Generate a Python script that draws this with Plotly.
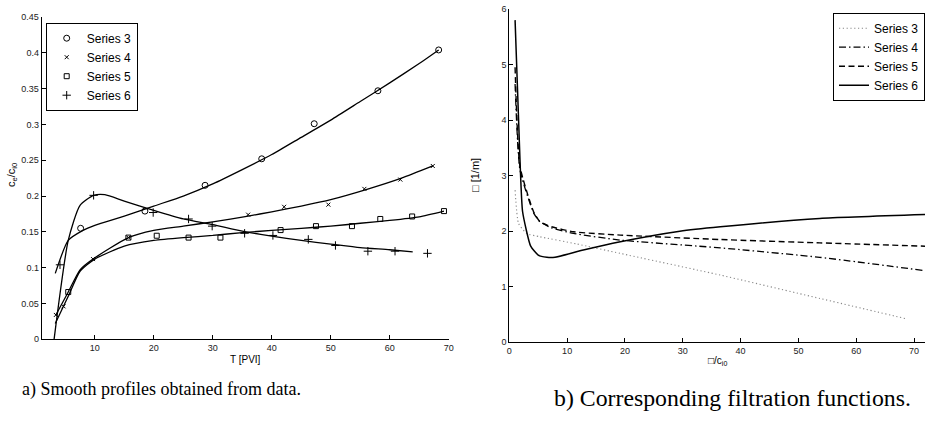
import plotly.graph_objects as go

# ---------------- Left panel: measured points ----------------
s3_x = [7.6, 18.5, 28.7, 38.3, 47.2, 58.0, 68.3]
s3_y = [0.155, 0.179, 0.215, 0.252, 0.301, 0.347, 0.404]
s4_x = [3.4, 4.7, 9.7, 15.7, 36.0, 42.1, 49.6, 55.7, 61.8, 67.3]
s4_y = [0.034, 0.046, 0.112, 0.142, 0.174, 0.185, 0.188, 0.210, 0.223, 0.242]
s5_x = [5.5, 15.7, 20.5, 25.9, 31.3, 41.5, 47.5, 53.6, 58.4, 63.8, 69.2]
s5_y = [0.066, 0.142, 0.1446, 0.142, 0.142, 0.1525, 0.158, 0.158, 0.168, 0.1715, 0.179]
s6_x = [4.1, 9.8, 19.9, 25.9, 29.9, 35.4, 40.2, 46.2, 50.8, 56.3, 60.9, 66.4]
s6_y = [0.104, 0.201, 0.177, 0.168, 0.158, 0.148, 0.145, 0.1395, 0.131, 0.123, 0.123, 0.120]

# ---------------- Left panel: smooth profiles ----------------
f3_x = [3.3, 5.5, 8, 10, 15, 20, 25, 30, 35, 40, 45, 50, 55, 60, 65, 68.3]
f3_y = [0.092, 0.138, 0.152, 0.159, 0.172, 0.186, 0.200, 0.217, 0.237, 0.258, 0.282, 0.306, 0.332, 0.358, 0.385, 0.404]
f4_x = [3.4, 5.5, 7.5, 9.7, 15.7, 20, 25, 30, 36, 40, 45, 50, 56, 62, 67.3]
f4_y = [0.034, 0.066, 0.097, 0.112, 0.142, 0.152, 0.158, 0.164, 0.172, 0.178, 0.186, 0.195, 0.209, 0.225, 0.242]
f5_x = [3.3, 5.5, 7.5, 10, 15, 20, 25, 30, 35, 40, 45, 50, 55, 60, 65, 69.2]
f5_y = [0.022, 0.060, 0.095, 0.112, 0.130, 0.138, 0.142, 0.145, 0.149, 0.152, 0.155, 0.158, 0.162, 0.166, 0.171, 0.179]
f6_x = [3.1, 5.5, 7.5, 9.8, 11.7, 15, 20, 25, 30, 35, 40, 45, 50, 55, 60, 63.9]
f6_y = [0.0, 0.138, 0.187, 0.201, 0.202, 0.193, 0.180, 0.168, 0.160, 0.151, 0.144, 0.138, 0.133, 0.128, 0.125, 0.122]

# ---------------- Right panel: filtration functions ----------------
g3_x = [1.0, 1.6, 3.0, 5.3, 11.7, 19.2, 36.5, 53.7, 68.8]
g3_y = [2.74, 2.14, 1.96, 1.90, 1.77, 1.60, 1.21, 0.79, 0.42]
g4_x = [1.0, 1.85, 4.2, 5.3, 7.3, 11.1, 19.2, 36.5, 53.7, 71.9]
g4_y = [4.65, 3.10, 2.33, 2.17, 2.06, 1.96, 1.84, 1.70, 1.53, 1.29]
g5_x = [1.0, 1.85, 4.2, 5.3, 7.3, 11.1, 19.2, 36.5, 53.7, 71.9]
g5_y = [4.95, 3.16, 2.35, 2.17, 2.08, 1.99, 1.93, 1.85, 1.79, 1.73]
g6_x = [1.0, 1.85, 2.3, 3.7, 5.0, 6.5, 7.9, 12.8, 19.2, 29.5, 36.5, 53.7, 71.9]
g6_y = [5.80, 3.28, 2.35, 1.73, 1.57, 1.53, 1.53, 1.66, 1.81, 2.00, 2.08, 2.23, 2.30]

names = ["Series 3", "Series 4", "Series 5", "Series 6"]
FONT = "Liberation Sans, Arial, sans-serif"

fig = go.Figure()

# left: markers (legend)
mk = [("circle-open", 6, s3_x, s3_y), ("x-thin-open", 4, s4_x, s4_y),
      ("square-open", 5, s5_x, s5_y), ("cross-thin-open", 6, s6_x, s6_y)]
for nm, (sym, sz, xs, ys) in zip(names, mk):
    fig.add_trace(go.Scatter(x=xs, y=ys, mode="markers", name=nm, legend="legend",
                             marker=dict(symbol=sym, size=sz, color="black",
                                         line=dict(color="black", width=1)),
                             xaxis="x", yaxis="y"))
# left: curves
for xs, ys in [(f3_x, f3_y), (f4_x, f4_y), (f5_x, f5_y), (f6_x, f6_y)]:
    fig.add_trace(go.Scatter(x=xs, y=ys, mode="lines", showlegend=False,
                             line=dict(color="black", width=1.3, shape="spline", smoothing=0.6),
                             xaxis="x", yaxis="y"))

# right: curves
styles = [("#888888", "1.2px,2.6px", 1.1), ("black", "7px,3px,1.5px,3px", 1.3),
          ("black", "6px,3.5px", 1.4), ("black", "solid", 1.5)]
for nm, (col, dash, w), (xs, ys) in zip(names, styles,
                                       [(g3_x, g3_y), (g4_x, g4_y), (g5_x, g5_y), (g6_x, g6_y)]):
    fig.add_trace(go.Scatter(x=xs, y=ys, mode="lines", name=nm, legend="legend2",
                             line=dict(color=col, width=w, dash=dash, shape="spline", smoothing=0.5),
                             xaxis="x2", yaxis="y2"))

W, H = 925, 422
axis_common = dict(showline=True, linecolor="black", linewidth=1, ticks="inside",
                   ticklen=4, tickcolor="black", showgrid=False, zeroline=False,
                   tickfont=dict(family=FONT, size=9, color="#222"), mirror=False,
                   automargin=False)

fig.update_layout(
    width=W, height=H, margin=dict(l=0, r=0, t=0, b=0, autoexpand=False),
    paper_bgcolor="white", plot_bgcolor="white",
    xaxis=dict(domain=[41.7 / W, 448.7 / W], range=[1, 70], tickvals=[10, 20, 30, 40, 50, 60, 70],
               anchor="y", **axis_common),
    yaxis=dict(domain=[1 - 339.3 / H, 1 - 17 / H], range=[0, 0.45], dtick=0.05, tick0=0,
               anchor="x", **axis_common),
    xaxis2=dict(domain=[509.3 / W, 1.0], range=[0, 71.9], tickvals=[0, 10, 20, 30, 40, 50, 60, 70],
                anchor="y2", **axis_common),
    yaxis2=dict(domain=[1 - 342.3 / H, 1 - 9 / H], range=[0, 6], dtick=1, tick0=0,
                anchor="x2", **axis_common),
    legend=dict(x=45.7 / W, y=1 - 22.7 / H, xanchor="left", yanchor="top",
                bordercolor="black", borderwidth=1, bgcolor="white",
                font=dict(family=FONT, size=12, color="black"), tracegroupgap=0),
    legend2=dict(x=1.0, y=1 - 12.7 / H, xanchor="right", yanchor="top",
                 bordercolor="black", borderwidth=1, bgcolor="white",
                 font=dict(family=FONT, size=12, color="black"), tracegroupgap=0),
    showlegend=True,
)

BOX = "\u25a1"

fig.add_annotation(text="T [PVI]", x=245 / W, y=1 - 359 / H, xref="paper", yref="paper",
                   showarrow=False, xanchor="center", yanchor="middle",
                   font=dict(family=FONT, size=10, color="black"))
fig.add_annotation(text=BOX + "/c<sub>i0</sub>", x=717 / W, y=1 - 361 / H, xref="paper", yref="paper",
                   showarrow=False, xanchor="center", yanchor="middle",
                   font=dict(family=FONT, size=10, color="black"))
fig.add_annotation(text="c<sub>e</sub>/c<sub>i0</sub>", x=12 / W, y=1 - 175 / H, xref="paper", yref="paper",
                   showarrow=False, textangle=-90, xanchor="center", yanchor="middle",
                   font=dict(family=FONT, size=11, color="black"))
fig.add_annotation(text=BOX + " [1/m]", x=475 / W, y=1 - 175 / H, xref="paper", yref="paper",
                   showarrow=False, textangle=-90, xanchor="center", yanchor="middle",
                   font=dict(family=FONT, size=11, color="black"))

SERIF = "Liberation Serif, Times New Roman, serif"
fig.add_annotation(text="a) Smooth profiles obtained from data.", x=161 / W, y=1 - 389 / H,
                   xref="paper", yref="paper", showarrow=False, xanchor="center", yanchor="middle",
                   font=dict(family=SERIF, size=18, color="black"))
fig.add_annotation(text="b) Corresponding filtration functions.", x=732 / W, y=1 - 398 / H,
                   xref="paper", yref="paper", showarrow=False, xanchor="center", yanchor="middle",
                   font=dict(family=SERIF, size=23.8, color="black"))

# remove the browser's default 8px body margin so the figure sits at the page origin
fig.write_html("out.html", config={"displayModeBar": False},
               post_script="document.body.style.margin='0px';")
